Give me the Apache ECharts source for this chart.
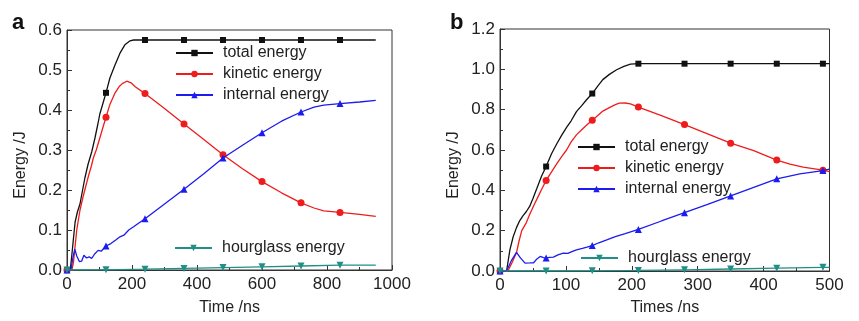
<!DOCTYPE html>
<html>
<head>
<meta charset="utf-8">
<script src="https://cdn.jsdelivr.net/npm/echarts@6/dist/echarts.min.js"></script>
<style>
html,body{margin:0;padding:0;background:#fff;}
#c{width:859px;height:321px;}
</style>
</head>
<body>
<div id="c"></div>
<script>
// ---------- Panel a data (Time /ns, Energy /J) ----------
const aTotal = [[0,0],[10,0],[14,0.03],[20,0.08],[25,0.12],[32,0.145],[40,0.165],[48,0.2],[55,0.23],[65,0.265],[76,0.295],[86,0.33],[95,0.365],[101,0.39],[110,0.415],[120,0.443],[132,0.48],[148,0.513],[163,0.542],[178,0.563],[194,0.573],[205,0.575],[240,0.575],[360,0.575],[480,0.575],[600,0.575],[720,0.575],[840,0.575],[950,0.575]];
const aKinetic = [[0,0],[15,0],[20,0.02],[25,0.06],[30,0.1],[40,0.15],[50,0.185],[58,0.21],[66,0.235],[75,0.26],[81,0.28],[90,0.3],[101,0.33],[110,0.355],[120,0.382],[132,0.414],[148,0.443],[160,0.458],[170,0.466],[184,0.472],[197,0.468],[210,0.458],[240,0.441],[300,0.404],[360,0.365],[420,0.327],[480,0.288],[540,0.253],[600,0.221],[660,0.193],[720,0.168],[760,0.155],[790,0.148],[840,0.144],[900,0.139],[950,0.134]];
const aInternal = [[0,0],[12,0],[18,0.03],[24,0.052],[30,0.035],[38,0.021],[45,0.022],[52,0.037],[60,0.03],[68,0.033],[76,0.029],[85,0.04],[96,0.049],[105,0.047],[120,0.06],[135,0.066],[150,0.075],[163,0.083],[175,0.087],[190,0.1],[205,0.108],[220,0.117],[240,0.128],[300,0.165],[360,0.202],[420,0.24],[480,0.28],[540,0.312],[600,0.343],[660,0.372],[720,0.395],[760,0.407],[790,0.412],[840,0.416],[900,0.42],[950,0.424]];
const aHourglass = [[0,0],[120,0.0005],[240,0.002],[360,0.004],[480,0.006],[600,0.008],[720,0.010],[840,0.012],[950,0.012]];
const aMarkers = [0,120,240,360,480,600,720,840];
const aXTicks = [0,200,400,600,800,1000];
const aYTicks = [0.0,0.1,0.2,0.3,0.4,0.5,0.6];

// ---------- Panel b data (Times /ns, Energy /J) ----------
const bTotal = [[0,0],[10,0],[15,0.105],[20,0.17],[25,0.215],[30,0.25],[35,0.275],[40,0.295],[45,0.32],[50,0.36],[56,0.41],[63,0.47],[70,0.518],[78,0.58],[86,0.63],[93,0.67],[101,0.712],[108,0.745],[116,0.79],[124,0.82],[131,0.848],[140,0.88],[148,0.915],[156,0.949],[166,0.975],[177,0.998],[188,1.015],[198,1.026],[210,1.028],[280,1.028],[350,1.028],[420,1.028],[490,1.028],[500,1.028]];
const bKinetic = [[0,0],[12,0],[18,0.04],[25,0.09],[29,0.15],[33,0.2],[40,0.24],[45,0.28],[52,0.33],[58,0.37],[64,0.41],[70,0.449],[78,0.49],[86,0.531],[93,0.565],[101,0.6],[108,0.64],[116,0.675],[124,0.7],[132,0.725],[140,0.748],[148,0.77],[156,0.793],[166,0.81],[175,0.825],[181,0.832],[190,0.833],[198,0.829],[210,0.813],[245,0.77],[280,0.726],[315,0.68],[350,0.634],[385,0.597],[420,0.55],[440,0.53],[460,0.515],[490,0.5],[500,0.493]];
const bInternal = [[0,0],[10,0],[17,0.05],[25,0.092],[31,0.065],[38,0.039],[45,0.04],[51,0.041],[56,0.06],[61,0.072],[66,0.066],[70,0.064],[75,0.068],[81,0.069],[88,0.08],[96,0.089],[103,0.087],[110,0.097],[116,0.105],[125,0.112],[132,0.118],[140,0.126],[150,0.14],[162,0.154],[175,0.17],[190,0.185],[210,0.206],[245,0.248],[280,0.289],[315,0.33],[350,0.372],[385,0.415],[420,0.457],[455,0.482],[490,0.498],[500,0.505]];
const bHourglass = [[0,0],[70,0.0],[140,0.001],[210,0.003],[280,0.006],[350,0.01],[420,0.014],[490,0.018],[500,0.018]];
const bMarkers = [0,70,140,210,280,350,420,490];
const bXTicks = [0,100,200,300,400,500];
const bYTicks = [0.0,0.2,0.4,0.6,0.8,1.0,1.2];

const seriesNames = ['total energy','kinetic energy','internal energy','hourglass energy'];

// ---------- styling ----------
const FONT = 'Liberation Sans, Arial, Helvetica, sans-serif';
const TXT = '#222';
const COLORS = ['#111111','#ee1c1c','#1c1cee','#1f8f87'];
const SYMBOLS = ['rect','circle','triangle','triangle'];
const SIZES = [6,7,7,7];
const ROT = [0,0,0,180];

function mkSeries(panel, idx, data, markers, gi) {
  return {
    name: panel + ':' + seriesNames[idx],
    type: 'line',
    xAxisIndex: gi, yAxisIndex: gi,
    data: data,
    symbol: SYMBOLS[idx],
    symbolRotate: ROT[idx],
    symbolSize: function (v) { return markers.indexOf(v[0]) >= 0 ? SIZES[idx] : 0; },
    showSymbol: true,
    showAllSymbol: true,
    lineStyle: { color: COLORS[idx], width: 1.3 },
    itemStyle: { color: COLORS[idx] },
    z: 10 + idx,
    animation: false,
    silent: true
  };
}

function mkX(gi, ticks, name, gap) {
  return {
    type: 'value', gridIndex: gi,
    min: ticks[0], max: ticks[ticks.length - 1], interval: ticks[1] - ticks[0],
    name: name, nameLocation: 'middle', nameGap: gap,
    nameTextStyle: { fontFamily: FONT, fontSize: 16, color: TXT },
    axisLine: { show: true, onZero: false, lineStyle: { color: '#333', width: 1 } },
    axisTick: { show: true, inside: true, length: 5, lineStyle: { color: '#333' } },
    minorTick: { show: true, splitNumber: 2, length: 3, lineStyle: { color: '#333' } },
    splitLine: { show: false },
    axisLabel: { fontFamily: FONT, fontSize: 17, color: TXT, margin: 6,
      formatter: function (v) { return String(v); } }
  };
}
function mkY(gi, ticks, name, gap) {
  return {
    type: 'value', gridIndex: gi,
    min: ticks[0], max: ticks[ticks.length - 1], interval: Math.round((ticks[1] - ticks[0]) * 10) / 10,
    name: name, nameLocation: 'middle', nameGap: gap,
    nameTextStyle: { fontFamily: FONT, fontSize: 16, color: TXT, padding: [0, 30, 0, 0] },
    axisLine: { show: true, onZero: false, lineStyle: { color: '#333', width: 1 } },
    axisTick: { show: true, inside: true, length: 5, lineStyle: { color: '#333' } },
    minorTick: { show: true, splitNumber: 2, length: 3, lineStyle: { color: '#333' } },
    splitLine: { show: false },
    axisLabel: { fontFamily: FONT, fontSize: 17, color: TXT, margin: 5,
      formatter: function (v) { return v.toFixed(1); } }
  };
}
function mkLegend(names, left, top) {
  return {
    orient: 'vertical', left: left, top: top,
    data: names, itemWidth: 37, itemHeight: 8, itemGap: 5,
    selectedMode: false, padding: 0,
    formatter: function (n) { return n.split(':')[1]; },
    textStyle: { fontFamily: FONT, fontSize: 16, color: TXT, lineHeight: 16, padding: [0, 0, 0, 5] }
  };
}

const chart = echarts.init(document.getElementById('c'), null, { renderer: 'canvas' });
chart.setOption({
  animation: false,
  backgroundColor: '#fff',
  grid: [
    { left: 67, top: 30, width: 325, height: 241, show: true, borderColor: '#333', borderWidth: 1, backgroundColor: 'transparent' },
    { left: 500, top: 29, width: 329.5, height: 244, show: true, borderColor: '#333', borderWidth: 1, backgroundColor: 'transparent' }
  ],
  xAxis: [ mkX(0, aXTicks, 'Time /ns', 30), mkX(1, bXTicks, 'Times /ns', 29) ],
  yAxis: [ mkY(0, aYTicks, 'Energy /J', 38), mkY(1, bYTicks, 'Energy /J', 38) ],
  legend: [
    mkLegend(['a:total energy','a:kinetic energy','a:internal energy'], 175, 45),
    mkLegend(['a:hourglass energy'], 174, 240),
    mkLegend(['b:total energy','b:kinetic energy','b:internal energy'], 577, 139),
    mkLegend(['b:hourglass energy'], 580, 250)
  ],
  graphic: [
    { type: 'text', left: 12, top: 12, style: { text: 'a', fontFamily: FONT, fontWeight: 'bold', fontSize: 22, fill: '#111' } },
    { type: 'text', left: 450, top: 12, style: { text: 'b', fontFamily: FONT, fontWeight: 'bold', fontSize: 22, fill: '#111' } }
  ],
  series: [
    mkSeries('a', 0, aTotal, aMarkers, 0),
    mkSeries('a', 1, aKinetic, aMarkers, 0),
    mkSeries('a', 2, aInternal, aMarkers, 0),
    mkSeries('a', 3, aHourglass, aMarkers, 0),
    mkSeries('b', 0, bTotal, bMarkers, 1),
    mkSeries('b', 1, bKinetic, bMarkers, 1),
    mkSeries('b', 2, bInternal, bMarkers, 1),
    mkSeries('b', 3, bHourglass, bMarkers, 1)
  ]
});
</script>
</body>
</html>
